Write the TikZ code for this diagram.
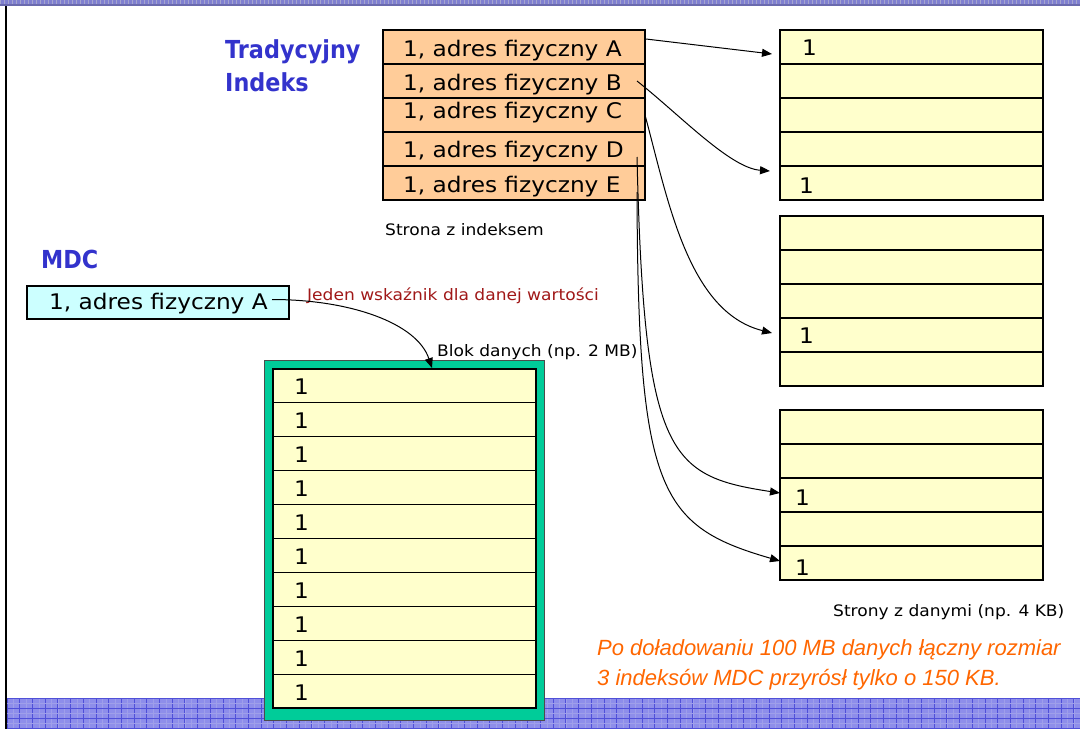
\documentclass[tikz,border=0pt]{standalone}
\usepackage{fontspec}
\newfontfamily\lgf[FakeStretch=1.08]{DejaVu Sans}
\newfontfamily\ttlf[FakeStretch=0.9]{DejaVu Sans}
\newfontfamily\arf{Liberation Sans}
\usetikzlibrary{arrows.meta,calc}
\definecolor{peach}{HTML}{FFCC99}
\definecolor{cream}{HTML}{FFFFCC}
\definecolor{aqua}{HTML}{CCFFFF}
\definecolor{sea}{HTML}{00CC99}
\definecolor{ttlblue}{HTML}{3333CC}
\definecolor{darkred}{HTML}{A01818}
\definecolor{orng}{HTML}{FF6600}
\definecolor{bandblue}{HTML}{8E8EEA}
\definecolor{gridblue}{HTML}{5050D8}
\definecolor{topband}{HTML}{8080D0}
\definecolor{topedge}{HTML}{6A6AAE}
\begin{document}
\begin{tikzpicture}[x=1pt,y=-1pt,
  cellbase/.style={draw=black, line width=1.1pt, inner sep=0pt, outer sep=0pt},
  idxrow/.style={cellbase, fill=peach, minimum width=262pt, minimum height=34pt},
  pagerow/.style={cellbase, fill=cream, minimum width=263pt, minimum height=34pt},
  blkrow/.style={cellbase, fill=cream, minimum width=263pt, minimum height=33.9pt},
  mdcbox/.style={cellbase, fill=aqua, minimum width=262pt, minimum height=33pt},
  rowtxt/.style={anchor=base west, inner sep=0pt, font=\lgf\fontsize{21.5}{24}\selectfont},
  onetxt/.style={anchor=base west, inner sep=0pt, font=\lgf\fontsize{21.5}{24}\selectfont},
  smalltxt/.style={anchor=base west, inner sep=0pt, font=\lgf\fontsize{15.8}{18}\selectfont},
  ttltxt/.style={anchor=base west, inner sep=0pt, text=ttlblue, font=\ttlf\bfseries\fontsize{24.8}{30}\selectfont},
  notetxt/.style={anchor=base west, inner sep=0pt, text=orng, font=\arf\itshape\fontsize{22}{26}\selectfont},
  ptr/.style={draw=black, line width=1pt, -{Triangle[length=10pt,width=8pt]}}
]
\useasboundingbox (0,0) rectangle (1080,729);
% frame decorations
\fill[topband] (0,0) rectangle (1080,6);
\foreach \x in {0,4,...,1080} \draw[topedge!60, line width=0.6pt] (\x,0) -- (\x,4.5);
\draw[topedge, line width=2pt] (0,5) -- (1080,5);
\fill[bandblue] (7,698) rectangle (1080,729);
\foreach \x in {7,13.35,...,1080} \draw[gridblue!55, line width=0.5pt] (\x,698) -- (\x,729);
\foreach \x in {7,19.7,...,1080} \draw[gridblue, line width=0.8pt] (\x,698) -- (\x,729);
\foreach \y in {698.5,708.5,718.5,728.5} \draw[gridblue, line width=0.8pt] (7,\y) -- (1080,\y);
\foreach \y in {703.5,713.5,723.5} \draw[gridblue!55, line width=0.5pt] (7,\y) -- (1080,\y);
\draw[black, line width=1.4pt] (6,6) -- (6,729);

% titles
\node[ttltxt] (tt1) at (225,58) {Tradycyjny};
\node[ttltxt] (tt2) at (225,91) {Indeks};
\node[ttltxt] (ttm) at (41,268) {MDC};

% traditional index page
\node[idxrow] (iA) at (514,47) {};
\node[idxrow] (iB) at (514,81) {};
\node[idxrow] (iC) at (514,115) {};
\node[idxrow] (iD) at (514,149) {};
\node[idxrow] (iE) at (514,183) {};
\node[rowtxt] (tA) at (403,56) {1, adres fizyczny A};
\node[rowtxt] (tB) at (403,90) {1, adres fizyczny B};
\node[rowtxt] (tC) at (403,118) {1, adres fizyczny C};
\node[rowtxt] (tD) at (403,157) {1, adres fizyczny D};
\node[rowtxt] (tE) at (403,192) {1, adres fizyczny E};
\node[smalltxt] (lidx) at (385,235) {Strona z indeksem};

% data pages
\foreach \p/\top in {1/30,2/216,3/410}{
  \foreach \i in {1,...,5}{
    \node[pagerow] (p\p-\i) at (911.5,{\top+17+34*(\i-1)}) {};
  }
}
\node[onetxt] (o11) at (802,55) {1};
\node[onetxt] (o15) at (799,193) {1};
\node[onetxt] (o24) at (799,343) {1};
\node[onetxt] (o33) at (795,505) {1};
\node[onetxt] (o35) at (795,575) {1};
\node[smalltxt] (lpg) at (833,616) {Strony z danymi (np. 4 KB)};

% MDC
\node[mdcbox] (mdc) at (158,302.5) {};
\node[rowtxt] (tm) at (49,309) {1, adres fizyczny A};
\node[smalltxt, text=darkred] (lone) at (307,300) {Jeden wskaźnik dla danej wartości};
\node[smalltxt] (lblk) at (437,356) {Blok danych (np. 2 MB)};

% data block
\draw[fill=sea, draw=black!70, line width=0.8pt] (264,360) rectangle (544,720);
\foreach \i in {1,...,10}{
  \node[blkrow] (g\i) at (404.5,{369+16.95+33.9*(\i-1)}) {};
  \node[onetxt] (og\i) at (294,{394+34*(\i-1)}) {1};
}

% note
\node[notetxt] (n1) at (597,655) {Po doładowaniu 100 MB danych łączny rozmiar};
\node[notetxt] (n2) at (597,685) {3 indeksów MDC przyrósł tylko o 150 KB.};

% connectors
\coordinate (sA) at ($(iA.east)+(1,-8)$);
\coordinate (sB) at ($(iB.east)+(-8,0)$);
\coordinate (sC) at (iC.east);
\coordinate (sD) at ($(iD.east)+(-8,8)$);
\coordinate (sE) at ($(iE.east)+(-8,9)$);
\coordinate (eA) at ($(p1-1.west)+(-8,7)$);
\coordinate (eB) at ($(p1-5.west)+(-10,-12)$);
\coordinate (eC) at ($(p2-4.west)+(-8,-2)$);
\coordinate (eD) at ($(p3-3.west)+(0,-2)$);
\coordinate (eE) at ($(p3-5.west)+(0,-2)$);
\coordinate (sM) at ($(mdc.east)+(-17,-3)$);
\coordinate (eM) at ($(g1.north)+(27.5,-1)$);
\draw[ptr] (sA) -- (eA);
\draw[ptr] (sB) .. controls +(43,34) and +(-40,-3) .. (eB);
\draw[ptr] (sC) .. controls +(23,85) and +(-84,-21) .. (eC);
\draw[ptr] (sD) .. controls +(7,300) and +(-111,-17) .. (eD);
\draw[ptr] (sE) .. controls +(1,300) and +(-121,-35) .. (eE);
\draw[ptr] (sM) .. controls +(78,0) and +(-15,-45) .. (eM);
\end{tikzpicture}
\end{document}
